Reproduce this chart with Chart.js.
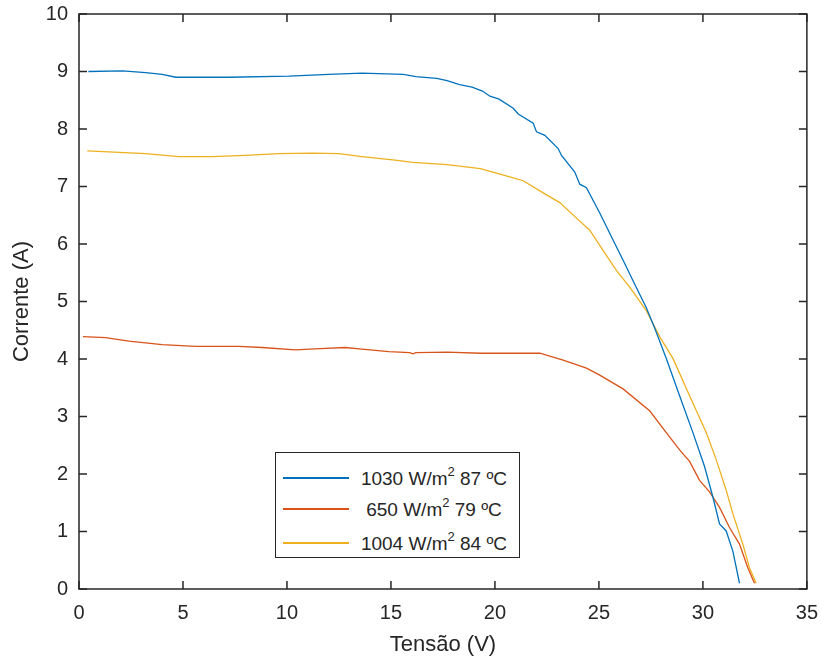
<!DOCTYPE html>
<html lang="pt">
<head>
    <meta charset="UTF-8">
    <title>Curvas I-V</title>
    <script src="https://cdn.jsdelivr.net/npm/chart.js"></script>
    <style>
        body { margin: 0; padding: 0; background: #fff; font-family: "Liberation Sans", Arial, sans-serif; }
        #wrap { position: relative; width: 821px; height: 662px; overflow: hidden; }
        #ivChart { position: absolute; left: 0; top: -9px; }
        #legend { position: absolute; left: 275px; top: 452px; width: 245px; height: 106px;
                  border: 1px solid #262626; background: #fff; box-sizing: border-box; }
        .row { position: absolute; left: 0; width: 100%; height: 30px; }
        .row .swatch { position: absolute; left: 7px; width: 66px; top: 13px; height: 1.5px; }
        .row .txt { position: absolute; left: 77px; width: 162px; top: -3px; text-align: center;
                    font-size: 19px; color: #262626; white-space: nowrap; line-height: 26px; }
        .row sup { font-size: 13px; position: relative; top: -2px; }
    </style>
</head>
<body>
<div id="wrap">
    <canvas id="ivChart" width="830" height="671"></canvas>
    <div id="legend"></div>
</div>
<script>
    // tick labels
    const xTicks = [0, 5, 10, 15, 20, 25, 30, 35];
    const yTicks = [0, 1, 2, 3, 4, 5, 6, 7, 8, 9, 10];

    // 1030 W/m2 87 C
    const v1030 = [0.45, 2.1, 3.2, 4.0, 4.65, 7.2, 10.1, 12.0, 13.6, 15.6, 16.2, 17.2, 17.7, 18.3, 18.9, 19.4, 19.76, 20.2,
        20.88, 21.12, 21.84, 22.0, 22.4, 23.04, 23.2, 23.84, 24.08, 24.4, 25.04, 25.68, 26.24, 26.64, 27.28, 27.68,
        28.24, 28.88, 29.52, 30.08, 30.48, 30.8, 31.12, 31.44, 31.76];
    const i1030 = [9.0, 9.01, 8.98, 8.95, 8.90, 8.90, 8.92, 8.95, 8.97, 8.95, 8.91, 8.88, 8.84, 8.77, 8.73, 8.66, 8.57, 8.52,
        8.36, 8.26, 8.10, 7.95, 7.89, 7.66, 7.54, 7.25, 7.04, 6.98, 6.54, 6.07, 5.66, 5.36, 4.89, 4.54,
        4.01, 3.36, 2.72, 2.13, 1.60, 1.13, 1.01, 0.66, 0.10];

    // 650 W/m2 79 C
    const v650 = [0.19, 1.28, 2.4, 4.0, 5.6, 7.7, 8.8, 10.4, 11.6, 12.8, 13.6, 14.9, 15.9, 16.05, 16.2, 17.7, 19.3, 20.2,
        22.16, 23.28, 24.4, 25.04, 26.16, 27.44, 28.24, 28.88, 29.36, 29.84, 30.32, 30.8, 31.28, 31.76, 32.16, 32.48];
    const i650 = [4.39, 4.37, 4.31, 4.25, 4.22, 4.22, 4.20, 4.16, 4.18, 4.20, 4.17, 4.13, 4.11, 4.09, 4.11, 4.12, 4.10, 4.10,
        4.10, 3.98, 3.84, 3.72, 3.48, 3.10, 2.72, 2.42, 2.22, 1.89, 1.69, 1.42, 1.07, 0.78, 0.37, 0.10];

    // 1004 W/m2 84 C
    const v1004 = [0.4, 3.2, 4.8, 6.4, 8.0, 9.6, 11.2, 12.5, 13.6, 15.2, 16.05, 17.7, 19.3, 20.2, 20.8, 21.36, 22.32,
        23.12, 23.92, 24.56, 25.2, 25.84, 26.48, 27.28, 27.92, 28.56, 29.36, 30.16, 30.64, 31.12, 31.44, 31.92, 32.24, 32.56];
    const i1004 = [7.62, 7.57, 7.52, 7.52, 7.54, 7.57, 7.58, 7.57, 7.52, 7.46, 7.42, 7.38, 7.31, 7.22, 7.16, 7.10, 6.89,
        6.72, 6.45, 6.24, 5.89, 5.54, 5.25, 4.84, 4.39, 4.01, 3.36, 2.72, 2.25, 1.72, 1.31, 0.78, 0.37, 0.10];

    const seriesNames = ['1030 W/m<sup>2</sup> 87 ºC', '650 W/m<sup>2</sup> 79 ºC', '1004 W/m<sup>2</sup> 84 ºC'];
    const seriesColors = ['#0072BD', '#D95319', '#EDB120'];

    const toXY = (xs, ys) => xs.map((x, k) => ({ x: x, y: ys[k] }));
    const axisColor = '#262626';
    const fontFam = '"Liberation Sans", Arial, Helvetica, sans-serif';

    // matlab style box with inward ticks on all four sides
    const boxTicks = {
        id: 'boxTicks',
        afterDatasetsDraw(chart) {
            const { ctx, chartArea: a, scales: { x, y } } = chart;
            const len = 8;
            ctx.save();
            ctx.strokeStyle = axisColor;
            ctx.lineWidth = 1.5;
            ctx.strokeRect(a.left, a.top, a.right - a.left, a.bottom - a.top);
            ctx.beginPath();
            xTicks.forEach(t => {
                const px = x.getPixelForValue(t);
                ctx.moveTo(px, a.bottom); ctx.lineTo(px, a.bottom - len);
                ctx.moveTo(px, a.top); ctx.lineTo(px, a.top + len);
            });
            yTicks.forEach(t => {
                const py = y.getPixelForValue(t);
                ctx.moveTo(a.left, py); ctx.lineTo(a.left + len, py);
                ctx.moveTo(a.right, py); ctx.lineTo(a.right - len, py);
            });
            ctx.stroke();
            ctx.restore();
        }
    };

    new Chart(document.getElementById('ivChart'), {
        type: 'scatter',
        data: {
            datasets: [
                { label: '1030', data: toXY(v1030, i1030) },
                { label: '650', data: toXY(v650, i650) },
                { label: '1004', data: toXY(v1004, i1004) }
            ].map((d, k) => Object.assign(d, {
                showLine: true, borderColor: seriesColors[k], backgroundColor: seriesColors[k],
                borderWidth: 1.3, pointRadius: 0, tension: 0
            }))
        },
        options: {
            responsive: false,
            animation: false,
            layout: { padding: { left: 0, right: 5, top: 4, bottom: 0 } },
            plugins: { legend: { display: false }, tooltip: { enabled: false } },
            scales: {
                x: {
                    type: 'linear', min: 0, max: 35,
                    afterFit: s => { s.height = 73; },
                    afterBuildTicks: s => { s.ticks = xTicks.map(v => ({ value: v })); },
                    ticks: { color: axisColor, padding: 12, font: { family: fontFam, size: 20 } },
                    grid: { display: false, drawTicks: false },
                    border: { display: false },
                    title: { display: true, text: 'Tensão (V)', color: axisColor, padding: { top: 0, bottom: 4 },
                             font: { family: fontFam, size: 22 } }
                },
                y: {
                    type: 'linear', min: 0, max: 10,
                    afterFit: s => { s.width = 79; },
                    afterBuildTicks: s => { s.ticks = yTicks.map(v => ({ value: v })); },
                    ticks: { color: axisColor, padding: 11, font: { family: fontFam, size: 20 } },
                    grid: { display: false, drawTicks: false },
                    border: { display: false },
                    title: { display: true, text: 'Corrente (A)', color: axisColor, padding: { top: 9, bottom: 0 },
                             font: { family: fontFam, size: 22 } }
                }
            }
        },
        plugins: [boxTicks]
    });

    // legend with superscripts
    const legend = document.getElementById('legend');
    const rowTops = [11, 42, 76];
    seriesNames.forEach((name, k) => {
        const row = document.createElement('div');
        row.className = 'row';
        row.style.top = rowTops[k] + 'px';
        row.innerHTML = '<div class="swatch" style="background:' + seriesColors[k] + '"></div>' +
            '<div class="txt">' + name + '</div>';
        legend.appendChild(row);
    });
</script>
</body>
</html>
